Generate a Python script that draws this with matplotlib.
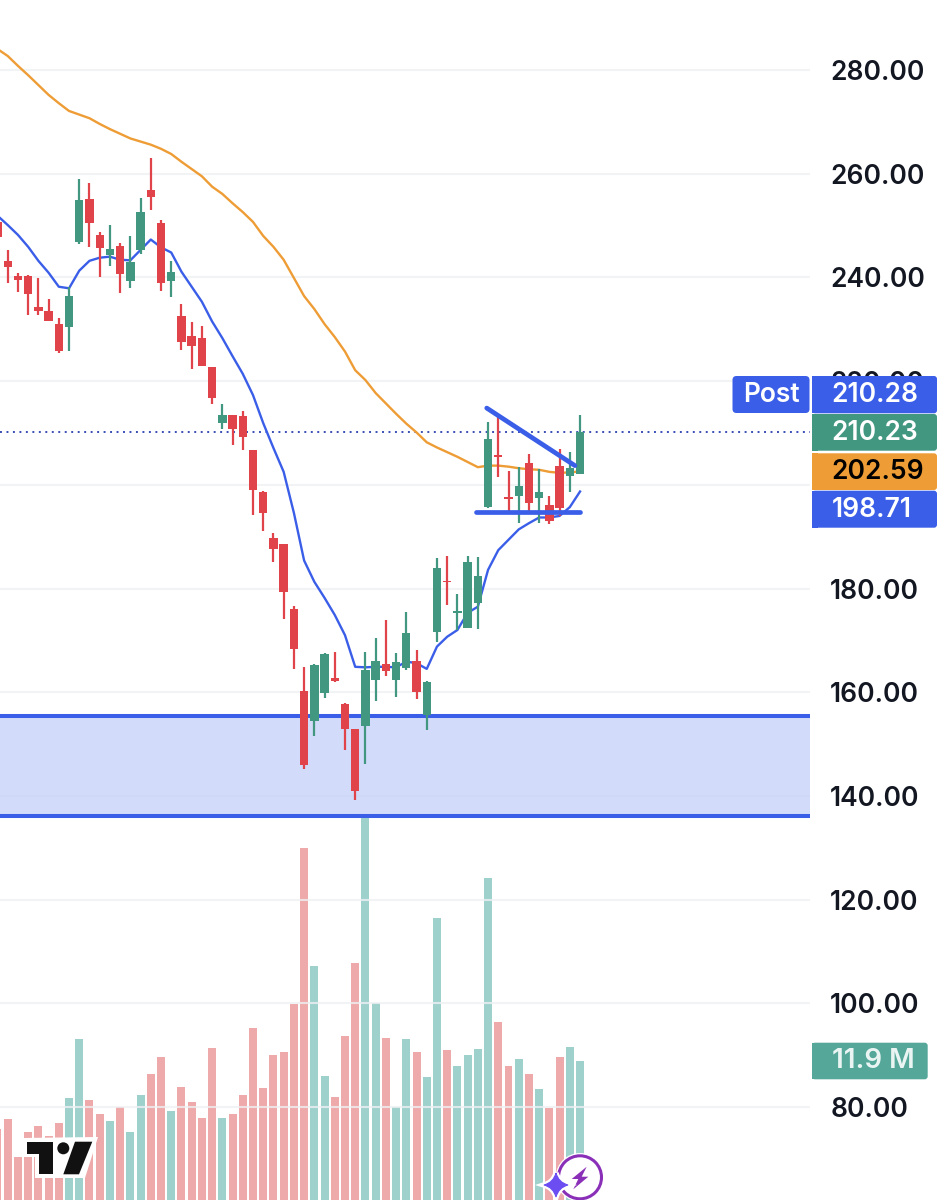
import matplotlib
matplotlib.use('Agg')
import matplotlib.pyplot as plt
from matplotlib.patches import Polygon, Circle, FancyBboxPatch, PathPatch
from matplotlib.path import Path
import numpy as np

plt.rcParams['font.family'] = ['Inter', 'DejaVu Sans']

# candles, index 0 is the one cut off by the left edge
opens = [250.7, 243.2, 240.3, 240.3, 234.2, 233.5, 231.1, 230.5, 246.8, 255.2,
         248.2, 244.4, 246.0, 239.4, 245.3, 256.9, 250.5, 239.3, 232.6, 228.7,
         228.4, 222.7, 211.9, 213.5, 213.2, 206.7, 198.7, 189.7, 188.6, 176.1,
         160.3, 154.4, 159.9, 162.7, 157.7, 153.0, 153.5, 162.4, 165.4, 162.4,
         164.7, 166.1, 155.6, 171.7, 181.5, 175.2, 172.4, 177.2, 195.8, 205.8,
         197.6, 197.8, 204.3, 197.5, 196.1, 203.6, 201.7, 202.1]
closes = [247.8, 242.1, 239.5, 236.8, 233.5, 231.5, 225.9, 236.5, 254.9, 250.4,
          245.7, 245.5, 240.7, 242.9, 252.6, 255.6, 239.0, 241.0, 227.5, 226.8,
          223.0, 216.7, 213.5, 210.7, 209.3, 199.0, 194.6, 187.6, 179.4, 168.4,
          146.0, 165.2, 167.3, 162.2, 153.0, 141.0, 164.3, 166.0, 164.0, 165.8,
          171.4, 160.0, 162.0, 183.9, 181.2, 175.7, 185.2, 182.4, 208.8, 205.4,
          197.2, 199.7, 196.4, 198.6, 193.0, 195.5, 203.3, 210.23]
highs = [251.5, 245.2, 240.9, 240.5, 239.8, 235.9, 232.2, 238.2, 258.9, 258.3,
         248.8, 250.2, 246.7, 248.0, 255.4, 263.0, 251.1, 243.2, 234.8, 231.4,
         230.7, 222.7, 215.6, 213.5, 214.3, 206.8, 198.9, 190.8, 188.6, 176.7,
         164.9, 165.4, 167.5, 167.8, 158.0, 153.0, 167.7, 170.5, 173.9, 167.5,
         175.4, 168.1, 162.2, 185.8, 186.3, 179.0, 186.3, 186.1, 212.1, 213.5,
         202.7, 203.4, 205.9, 203.0, 197.8, 207.0, 206.4, 213.5]
lows = [247.6, 238.9, 237.2, 232.8, 232.8, 231.5, 225.5, 225.9, 246.4, 245.8,
        240.1, 242.2, 237.0, 238.0, 244.6, 253.0, 237.4, 236.2, 226.0, 222.4,
        223.0, 215.6, 210.8, 207.7, 206.7, 194.2, 191.0, 185.1, 174.1, 164.5,
        145.2, 151.6, 158.9, 161.9, 148.9, 139.2, 146.2, 158.4, 163.2, 159.1,
        164.2, 158.7, 152.7, 169.7, 176.8, 172.0, 172.3, 172.1, 195.5, 201.6,
        194.8, 192.7, 194.8, 192.6, 192.4, 193.9, 198.6, 202.1]
# volume in millions
volumes = [6.1, 6.9, 3.7, 5.8, 6.3, 5.5, 6.6, 8.7, 13.8, 8.6,
           7.4, 6.8, 8.0, 5.8, 9.0, 10.8, 12.2, 7.6, 9.7, 8.4,
           7.0, 13.0, 7.0, 7.4, 9.0, 14.7, 9.6, 12.4, 12.7, 16.8,
           30.1, 20.0, 10.6, 8.8, 14.0, 20.3, 32.9, 16.9, 13.9, 8.0,
           13.8, 12.7, 10.5, 24.1, 12.8, 11.5, 12.4, 12.9, 27.6, 15.2,
           11.5, 12.1, 10.8, 9.5, 7.9, 12.2, 13.1, 11.9]
ma_fast = [251.9, 250.1, 248.2, 245.9, 243.2, 240.9, 238.2, 237.9, 241.3, 243.2,
           243.8, 244.0, 243.4, 243.3, 245.3, 247.3, 245.8, 244.8, 241.1, 238.2,
           235.3, 231.5, 228.3, 224.8, 221.4, 217.3, 211.9, 207.1, 202.5, 194.6,
           185.4, 181.3, 178.2, 174.9, 171.0, 164.9, 164.8, 164.9, 164.9, 164.8,
           165.9, 165.6, 164.5, 168.8, 170.7, 172.0, 175.3, 176.5, 183.6, 187.4,
           189.4, 191.4, 192.6, 193.7, 193.7, 194.0, 195.7, 198.71]
ma_slow = [284.05, 282.7, 280.8, 279.0, 277.1, 275.2, 273.6, 272.1, 271.4, 270.7,
           269.6, 268.6, 267.7, 266.8, 266.2, 265.6, 264.8, 263.8, 262.3, 260.9,
           259.5, 257.5, 256.1, 254.3, 252.6, 250.7, 248.0, 245.9, 243.4, 239.9,
           236.4, 233.9, 231.0, 228.5, 225.7, 222.1, 220.2, 217.7, 215.7, 213.7,
           211.8, 210.1, 208.2, 207.2, 206.3, 205.4, 204.4, 203.4, 203.7, 203.7,
           203.5, 203.2, 203.0, 202.9, 202.5, 202.3, 202.4, 202.59]

price_ticks = [280, 260, 240, 220, 200, 180, 160, 140, 120, 100, 80]
time_grid = [7, 27, 46, 68]
last_price = 210.23
zone_low, zone_high = 136.1, 155.4
# drawn trend lines: (candle index, price)
wedge_top = ([47.87, 56.5], [214.8, 203.7])
wedge_bottom = ([46.8, 57.0], [194.7, 194.7])

RED = '#e1434b'
GREEN = '#429781'
BLUE = '#3a5ee8'
ORANGE = '#ee9d36'
TEXT = '#131722'
FS = 19

x = np.arange(len(opens))
up = np.array(closes) >= np.array(opens)
colors = [GREEN if u else RED for u in up]
vol_colors = ['#9fd1cc' if u else '#eeaaaa' for u in up]
body_bottom = np.minimum(opens, closes)
body_height = np.abs(np.array(closes) - np.array(opens))

fig = plt.figure(figsize=(9.46, 12), dpi=100, facecolor='white')
ax_vol = fig.add_axes([0, 0, 810 / 946, 1])
ax = ax_vol.twinx()
ax_vol.set_zorder(1)
ax.set_zorder(2)
ax.patch.set_visible(False)

# volume pane
ax_vol.bar(x, volumes, width=0.78, color=vol_colors, zorder=2)
ax_vol.set_ylim(0, 102.7)
ax_vol.set_yticks([])
for s in ax_vol.spines.values():
    s.set_visible(False)

# price pane, the 200.00 label sits fully behind the tags
ax.set_xlim(0.245, 79.5)
ax.set_ylim(62.07, 293.5)
ax.set_yticks(price_ticks)
ax.set_yticklabels(['' if p == 200 else f'{p:.2f}' for p in price_ticks])
ax.set_xticks(time_grid)
ax.tick_params(axis='x', length=0, labelbottom=False)
ax.tick_params(axis='y', length=0, pad=14.5, labelsize=FS, labelcolor=TEXT)
for lab in ax.get_yticklabels():
    lab.set_fontweight('semibold')
ax.grid(True, color='#eef0f3', linewidth=1.5, alpha=0.8, zorder=0)
ax.set_axisbelow(True)
ax_vol.set_xlim(0.245, 79.5)
ax_vol.set_xticks([])
for s in ax.spines.values():
    s.set_visible(False)

ax.axhspan(zone_low, zone_high, color='#c4d0f8', alpha=0.75, lw=0, zorder=1)
ax.axhline(zone_high, color=BLUE, lw=2.9, zorder=2)
ax.axhline(zone_low, color=BLUE, lw=2.9, zorder=2)
ax.axhline(last_price, color='#3a4fb5', lw=1.4, linestyle=(0, (1, 2.33)), zorder=2)

ax.plot(x, ma_slow, color=ORANGE, lw=1.7, zorder=3)
ax.plot(x, ma_fast, color=BLUE, lw=1.7, zorder=3)

ax.vlines(x, lows, highs, colors=colors, lw=1.6, zorder=4)
ax.bar(x, body_height, bottom=body_bottom, width=0.82, color=colors, zorder=5)

ax.plot(*wedge_top, color=BLUE, lw=3.4, solid_capstyle='round', zorder=6)
ax.plot(*wedge_bottom, color=BLUE, lw=3.4, solid_capstyle='round', zorder=6)

# overlay in pixels for the price tags and logos
ov = fig.add_axes([0, 0, 1, 1], zorder=5)
ov.set_xlim(0, 946)
ov.set_ylim(1200, 0)
ov.axis('off')


def tag(x0, y0, x1, y1, color, label, fg='white', left=831, size=FS):
    ov.add_patch(FancyBboxPatch((x0 + 3, y0 + 3), x1 - x0 - 6, y1 - y0 - 6,
                                boxstyle='round,pad=3,rounding_size=3', fc=color, ec='none'))
    ov.add_patch(Polygon([(x0, y0), (x0 + 6, y0), (x0 + 6, y1), (x0, y1)], fc=color, ec='none'))
    ov.text(left, (y0 + y1) / 2 + 0.5, label, color=fg, fontsize=size, fontweight='semibold',
            ha='left', va='center')


ov.add_patch(FancyBboxPatch((735.5, 379), 71, 31, boxstyle='round,pad=3,rounding_size=4',
                            fc=BLUE, ec='none'))
ov.text(771, 395, 'Post', color='white', fontsize=FS, fontweight='semibold', ha='center', va='center')
tag(812, 376, 937, 413.3, BLUE, '210.28')
tag(812, 414, 937, 450.7, GREEN, '210.23')
tag(812, 453.3, 937, 490, ORANGE, '202.59', fg='black')
tag(812, 490.7, 937, 527.7, BLUE, '198.71', left=832)
tag(812, 1042.7, 927.7, 1079.3, '#55a79a', '11.9 M', fg='#eaf5f3', left=832, size=20)

# TradingView mark
ov.add_patch(Polygon([(23, 1138), (98, 1137), (85, 1178), (35, 1178), (35, 1157), (23, 1157)],
                     fc='white', ec='none'))
ov.add_patch(Polygon([(26.7, 1141.7), (53.3, 1141.7), (53.3, 1174.3), (39.3, 1174.3),
                      (39.3, 1154), (26.7, 1154)], fc='#111111', ec='none'))
ov.add_patch(Circle((63.3, 1148.3), 6, fc='#111111', ec='none'))
ov.add_patch(Polygon([(75, 1141.7), (92.3, 1141.7), (79, 1174.3), (63.3, 1174.3)],
                     fc='#111111', ec='none'))

# assistant badge at the bottom
ov.add_patch(Circle((580, 1177.3), 21.5, fc='white', ec='white', lw=4))
ov.add_patch(Circle((580, 1177.3), 21.5, fc='none', ec='#8a2fb8', lw=2.2))
ov.add_patch(Polygon([(586.7, 1166.7), (571.7, 1179), (578.3, 1179), (573.3, 1189.3),
                      (588.3, 1176.7), (581.7, 1176.7)], fc='#8a2fb8', ec='none'))
cx, cy, r, k = 556, 1185, 12, 2.5
star = Path([(cx, cy - r), (cx + k, cy - k), (cx + r, cy), (cx + k, cy + k), (cx, cy + r),
             (cx - k, cy + k), (cx - r, cy), (cx - k, cy - k), (cx, cy - r)],
            [Path.MOVETO] + [Path.CURVE3] * 8)
ov.add_patch(PathPatch(star, fc='white', ec='white', lw=4))
ov.add_patch(PathPatch(star, fc='#6b4df2', ec='#6b4df2', lw=0.8))

fig.savefig('out.png', dpi=100)
